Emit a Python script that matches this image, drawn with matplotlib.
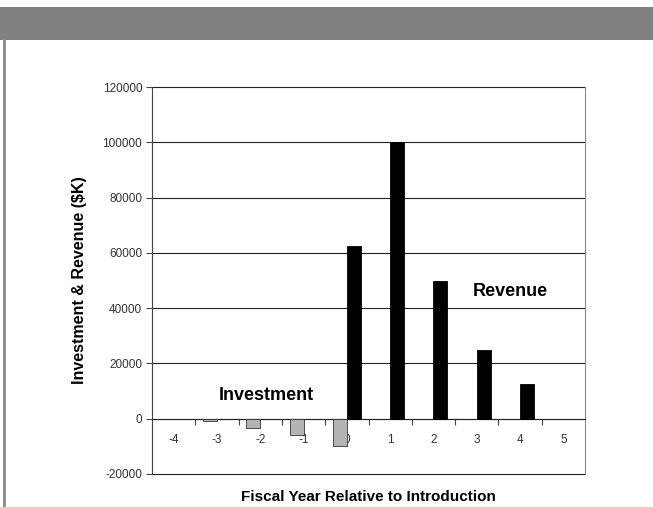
import matplotlib
matplotlib.use("Agg")
import matplotlib.pyplot as plt
from matplotlib.patches import Rectangle
from matplotlib.lines import Line2D
import numpy as np

plt.rcParams['font.family'] = ['Liberation Sans', 'DejaVu Sans']

years = [-4, -3, -2, -1, 0, 1, 2, 3, 4, 5]
investment = [0, -1000, -3300, -5800, -10000, 0, 0, 0, 0, 0]
revenue = [0, 0, 0, 0, 62500, 100000, 50000, 25000, 12500, 0]
y_ticks = [-20000, 0, 20000, 40000, 60000, 80000, 100000, 120000]

W, H = 653, 507
fig = plt.figure(figsize=(W / 100, H / 100), dpi=100)
fig.patch.set_facecolor('white')

# page decorations
fig.add_artist(Rectangle((0, 1 - 40 / H), 1, 33 / H, transform=fig.transFigure,
                         facecolor='#808083', edgecolor='none'))
fig.add_artist(Line2D([4 / W, 4 / W], [0, 1 - 40 / H], transform=fig.transFigure,
                      color='#8a8a8a', lw=2))

L, R, T, B = 152, 585, 87, 474
ax = fig.add_axes([L / W, 1 - B / H, (R - L) / W, (B - T) / H])

x = np.arange(len(years))
w = 0.32
ax.bar(x - w / 2, investment, w, color='#b4b4b4', edgecolor='#333333',
       linewidth=[0.6 if v else 0 for v in investment], zorder=3)
ax.bar(x + w / 2, revenue, w, color='black', edgecolor='black',
       linewidth=[0.6 if v else 0 for v in revenue], zorder=3)

ax.set_xlim(-0.5, len(years) - 0.5)
ax.set_ylim(-20000, 120000)
ax.set_yticks(y_ticks)
ax.set_yticklabels([str(v) for v in y_ticks], fontsize=8.5, color='#333333')
for v in y_ticks:
    ax.axhline(v, color='#222222', linewidth=0.8, zorder=1, clip_on=False)
ax.tick_params(axis='y', length=4, width=0.8, color='#444444', pad=3)

ax.spines['bottom'].set_position(('data', 0))
ax.spines['bottom'].set_color('#222222')
ax.spines['bottom'].set_linewidth(0.8)
ax.spines['left'].set_color('#444444')
ax.spines['right'].set_color('#888888')
ax.spines['top'].set_visible(False)
ax.set_xticks(np.arange(len(years) - 1) + 0.5)
ax.set_xticklabels([])
ax.set_xticks(x, minor=True)
ax.set_xticklabels([str(v) for v in years], minor=True, fontsize=8.5, color='#333333')
ax.tick_params(axis='x', which='major', length=4, width=0.8, color='#444444', direction='out')
ax.tick_params(axis='x', which='minor', length=0, pad=11)

ax.set_ylabel('Investment & Revenue ($K)', fontsize=11.5, fontweight='bold')
ax.yaxis.set_label_coords(-(152 - 87) / (R - L), 0.5)
ax.set_xlabel('Fiscal Year Relative to Introduction', fontsize=11, fontweight='bold')
ax.xaxis.set_label_coords(0.5, -(490 - B) / (B - T))

ax.text(2.13, 8300, 'Investment', fontsize=13, fontweight='bold', ha='center', va='center', zorder=4)
ax.text(7.77, 45900, 'Revenue', fontsize=13, fontweight='bold', ha='center', va='center', zorder=4)

fig.savefig('out.png', dpi=100)
